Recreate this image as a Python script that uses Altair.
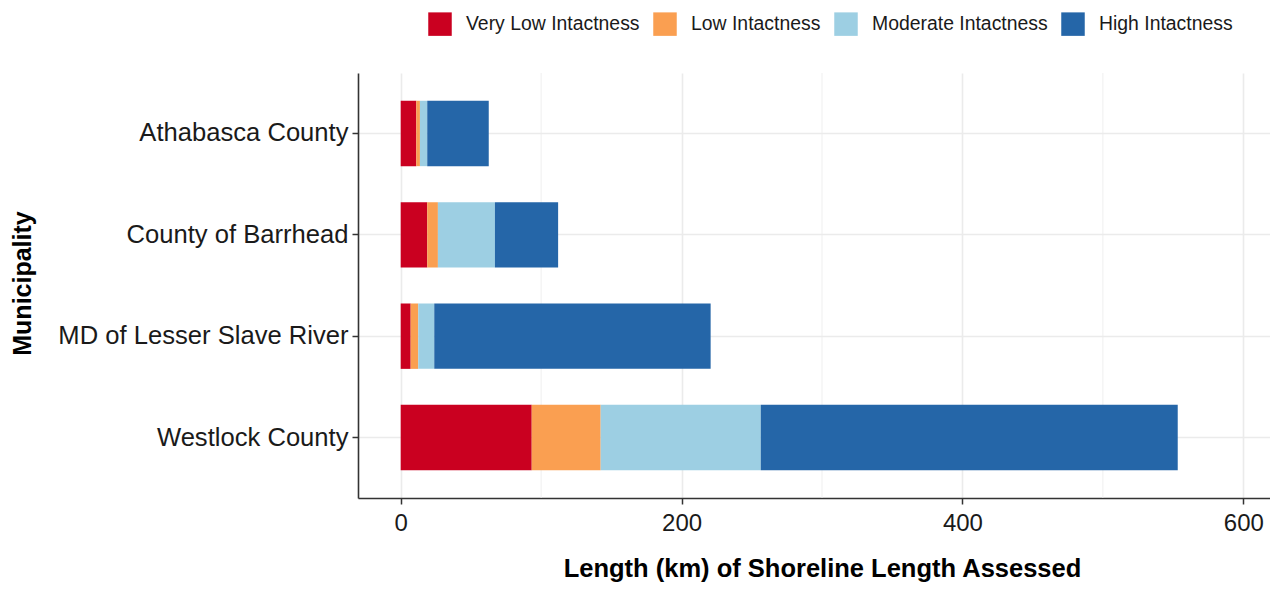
import altair as alt
import pandas as pd

municipalities = ["Athabasca County", "County of Barrhead", "MD of Lesser Slave River", "Westlock County"]
categories = ["Very Low Intactness", "Low Intactness", "Moderate Intactness", "High Intactness"]
very_low = [11.1, 18.9, 7.1, 93.3]
low = [2.6, 7.6, 5.4, 49.1]
moderate = [5.2, 40.6, 11.4, 114.0]
high = [43.8, 45.0, 196.8, 296.9]
colors = ["#CA0020", "#FA9F51", "#9DCFE3", "#2566A8"]
x_ticks = [0, 200, 400, 600]
minor_breaks = [100, 300, 500]

series = [very_low, low, moderate, high]
rows = []
for ci, (cat, vals) in enumerate(zip(categories, series)):
    for m, v in zip(municipalities, vals):
        rows.append({"Municipality": m, "Category": cat, "order": ci, "Length": v})
df = pd.DataFrame(rows)
minor_df = pd.DataFrame({"v": minor_breaks})

FONT = "Liberation Sans"
xscale = alt.Scale(domain=[-30.4, 619.0], nice=False, zero=False)

x_axis = alt.Axis(
    title="Length (km) of Shoreline Length Assessed",
    titleFontSize=25.5,
    titleFontWeight="bold",
    titleColor="#000000",
    titleBaseline="alphabetic",
    titleX=464,
    titleY=78,
    values=x_ticks,
    format="d",
    labelFontSize=24,
    labelColor="#1A1A1A",
    labelPadding=7,
    tickSize=6,
    tickColor="#333333",
    tickWidth=1.5,
    domainColor="#333333",
    domainWidth=1.6,
    grid=True,
    gridColor="#EBEBEB",
    gridWidth=1.6,
)

minor = alt.Chart(minor_df).mark_rule(color="#EBEBEB", strokeWidth=0.8).encode(
    x=alt.X("v:Q", scale=xscale, axis=x_axis, title="Length (km) of Shoreline Length Assessed")
)

bars = alt.Chart(df).mark_bar().encode(
    y=alt.Y(
        "Municipality:N",
        sort=municipalities,
        scale=alt.Scale(paddingInner=0.355, paddingOuter=0.274),
        axis=alt.Axis(
            title="Municipality",
            titleFontSize=25,
            titleFontWeight="bold",
            titleColor="#000000",
            titleAngle=270,
            titleAlign="center",
            titleBaseline="alphabetic",
            titleX=-328,
            titleY=210,
            labelFontSize=25.6,
            labelColor="#1A1A1A",
            labelLimit=400,
            labelPadding=4,
            tickSize=6,
            tickColor="#333333",
            tickWidth=1.5,
            domainColor="#333333",
            domainWidth=1.6,
            grid=True,
            gridColor="#EBEBEB",
            gridWidth=1.6,
        ),
    ),
    x=alt.X(
        "Length:Q",
        stack="zero",
        scale=xscale,
        axis=x_axis,
        title="Length (km) of Shoreline Length Assessed",
    ),
    color=alt.Color(
        "Category:N",
        sort=categories,
        scale=alt.Scale(domain=categories, range=colors),
        legend=alt.Legend(
            title=None,
            orient="none",
            legendX=70,
            legendY=-61,
            direction="horizontal",
            symbolType="square",
            symbolSize=552,
            symbolStrokeWidth=0,
            symbolOpacity=1,
            labelFontSize=19.4,
            labelColor="#1A1A1A",
            labelOffset=14,
            columnPadding=13,
            labelLimit=400,
            padding=0,
        ),
    ),
    order=alt.Order("order:Q", sort="ascending"),
)

chart = alt.layer(minor, bars).properties(
    width=912,
    height=425,
    autosize=alt.AutoSizeParams(type="none"),
    padding={"left": 350, "top": 65, "right": 0, "bottom": 84},
).configure(
    font=FONT,
).configure_view(
    stroke=None,
)

chart.save("out.html", embed_options={"renderer": "svg", "actions": False})
